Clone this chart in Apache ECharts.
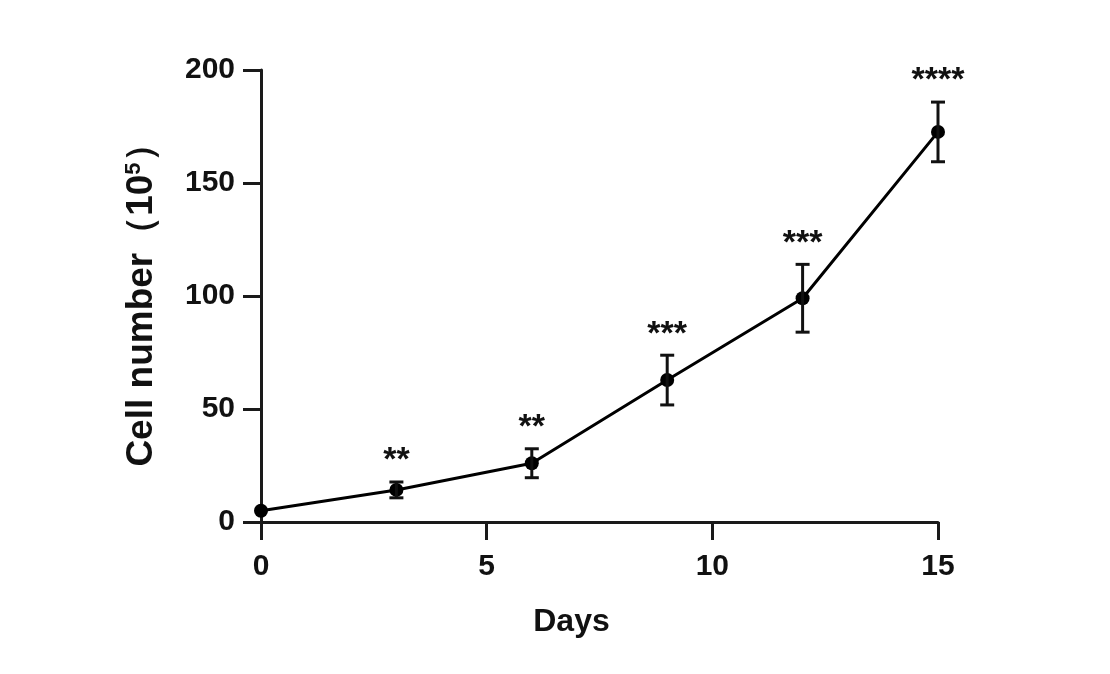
<!DOCTYPE html>
<html>
<head>
<meta charset="utf-8">
<script src="https://cdn.jsdelivr.net/npm/echarts@6/dist/echarts.min.js"></script>
<style>html,body{margin:0;padding:0;background:#fff}#c{width:1110px;height:674px}</style>
</head>
<body>
<div id="c"></div>
<script>
const days = [0, 3, 6, 9, 12, 15];
const cellMeans = [5, 14.2, 26, 62.8, 99, 172.6];
const cellSD = [0, 3.5, 6.4, 11, 15, 13.2];
const stars = ['', '**', '**', '***', '***', '****'];
const xTicks = [0, 5, 10, 15];
const yTicks = [0, 50, 100, 150, 200];

const chart = echarts.init(document.getElementById('c'));
const FONT = '"Liberation Sans", Arial, sans-serif';
const lineData = days.map((d, i) => [d, cellMeans[i]]);
const errData = days.map((d, i) => [d, cellMeans[i], cellSD[i]]);

chart.setOption({
  animation: false,
  backgroundColor: '#fff',
  grid: { left: 261, right: 172, top: 70, bottom: 152, containLabel: false },
  xAxis: {
    type: 'value', min: xTicks[0], max: xTicks[xTicks.length - 1], interval: 5,
    name: 'Days', nameLocation: 'middle', nameGap: 84,
    nameTextStyle: { fontFamily: FONT, fontSize: 32, fontWeight: 'bold', color: '#111', padding: [0, 56, 0, 0] },
    axisLine: { onZero: false, lineStyle: { color: '#1a1a1a', width: 3 } },
    axisTick: { length: 18, lineStyle: { width: 3, color: '#1a1a1a' } },
    axisLabel: { margin: 30, fontFamily: FONT, fontSize: 30, fontWeight: 'bold', color: '#111' },
    splitLine: { show: false }
  },
  yAxis: {
    type: 'value', min: yTicks[0], max: yTicks[yTicks.length - 1], interval: 50,
    name: 'Cell number（10{sup|5}）', nameLocation: 'middle', nameGap: 100, nameRotate: 90,
    nameTextStyle: {
      fontFamily: FONT, fontSize: 37, fontWeight: 'bold', color: '#111',
      rich: { sup: { fontFamily: FONT, fontSize: 22, fontWeight: 'bold', color: '#111', verticalAlign: 'top', padding: [0, 0, 16, 0] } }
    },
    axisLine: { show: true, onZero: false, lineStyle: { color: '#1a1a1a', width: 3 } },
    axisTick: { show: true, length: 18, lineStyle: { width: 3, color: '#1a1a1a' } },
    axisLabel: { margin: 26, fontFamily: FONT, fontSize: 30, fontWeight: 'bold', color: '#111' },
    splitLine: { show: false }
  },
  series: [
    {
      type: 'line', data: lineData, symbol: 'circle', symbolSize: 14,
      itemStyle: { color: '#000' }, lineStyle: { color: '#000', width: 3 }, z: 3
    },
    {
      type: 'custom', data: errData, z: 4,
      renderItem: function (params, api) {
        const x = api.value(0), m = api.value(1), sd = api.value(2);
        const top = api.coord([x, m + sd]);
        const bot = api.coord([x, m - sd]);
        const cap = 7;
        const children = [];
        if (sd > 0) {
          const st = { stroke: '#111', lineWidth: 3 };
          children.push({ type: 'line', shape: { x1: top[0], y1: top[1], x2: bot[0], y2: bot[1] }, style: st });
          children.push({ type: 'line', shape: { x1: top[0] - cap, y1: top[1], x2: top[0] + cap, y2: top[1] }, style: st });
          children.push({ type: 'line', shape: { x1: bot[0] - cap, y1: bot[1], x2: bot[0] + cap, y2: bot[1] }, style: st });
        }
        const s = stars[params.dataIndex];
        if (s) {
          children.push({
            type: 'text',
            style: { x: top[0], y: top[1] - 4, text: s, fill: '#111', font: 'bold 34px ' + FONT, textAlign: 'center', textVerticalAlign: 'bottom' }
          });
        }
        return { type: 'group', children: children };
      }
    }
  ]
});
</script>
</body>
</html>
